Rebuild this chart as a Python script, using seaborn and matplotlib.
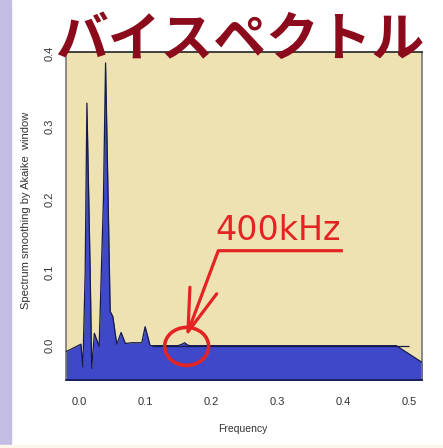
"""Bispectrum-style spectrum plot (R-like look) with annotation for the 400 kHz bump."""
import matplotlib
matplotlib.use("Agg")
import matplotlib.pyplot as plt
from matplotlib.patches import Ellipse, Rectangle
import seaborn as sns

# spectrum (frequency, smoothed spectrum value)
freq = [-0.026, 0.0026, 0.0056, 0.0091, 0.0117, 0.0167, 0.019, 0.023, 0.0303,
        0.0368, 0.040, 0.0439, 0.047, 0.051, 0.057, 0.0636, 0.070, 0.080,
        0.095, 0.100, 0.1076, 0.150, 0.156, 0.160, 0.164, 0.168, 0.481, 0.527]
spec = [-0.011, 0.002, -0.029, 0.100, 0.332, 0.100, -0.031, 0.017, -0.001,
        0.200, 0.387, 0.200, 0.047, 0.040, 0.002, 0.018, 0.003, 0.004,
        0.004, 0.026, 0.000, 0.000, 0.002, 0.004, 0.001, 0.000, 0.000, -0.027]
zero_line = [0.11, 0.50]

x_ticks = [0.0, 0.1, 0.2, 0.3, 0.4, 0.5]
y_ticks = [0.0, 0.1, 0.2, 0.3, 0.4]

title = "バイスペクトル"
note = "400kHz"
note_pos = (0.3015, 0.1445)
underline = ([0.400, 0.211, 0.165], [0.130, 0.130, 0.019])
barbs = ([0.168, 0.165, 0.2086], [0.080, 0.019, 0.071])
circle = (0.163, -0.001, 0.0667, 0.052)

CREAM = "#EEE2B2"
BLUE = "#3E48C8"
NAVY = "#141a4a"
RED = "#E42424"
DARKRED = "#8B0A1C"

sns.set_theme(style="white")
plt.rcParams["font.family"] = ["Liberation Sans", "DejaVu Sans"]

fig = plt.figure(figsize=(4.43, 4.48), dpi=100)
fig.patches.append(Rectangle((0, 0), 11 / 443, 1, transform=fig.transFigure,
                             color="#C3BDE3", zorder=0))
fig.patches.append(Rectangle((0, 0), 1, 3 / 448, transform=fig.transFigure,
                             color="#FBF6EA", zorder=0))
ax = fig.add_axes([66 / 443, 1 - 380 / 448, 356 / 443, 328 / 448])
ax.set_facecolor(CREAM)

ax.fill_between(freq, spec, -0.2, color=BLUE, lw=0, zorder=2)
sns.lineplot(x=freq, y=spec, sort=False, estimator=None, color=NAVY, lw=0.9,
             ax=ax, zorder=3)
ax.hlines(0, zero_line[0], zero_line[1], color=NAVY, lw=0.9, zorder=3)

ax.set_xlim(-0.02, 0.52)
ax.set_ylim(-0.047, 0.402)
ax.set_xticks(x_ticks, [f"{t:.1f}" for t in x_ticks])
ax.set_yticks(y_ticks, [f"{t:.1f}" for t in y_ticks], rotation=90, va="center")
ax.tick_params(axis="both", direction="out", length=4.5, width=0.8,
               color="#555555", labelsize=8, labelcolor="#333333")
ax.tick_params(axis="x", pad=8)
ax.tick_params(axis="y", pad=4)
ax.set_xlabel("Frequency", fontsize=7.5, color="#333333")
ax.set_ylabel("Spectrum smoothing by Akaike  window", fontsize=8,
              color="#333333")
ax.xaxis.set_label_coords(0.497, -0.134)
ax.yaxis.set_label_coords(-0.097, 0.518)
for side, sp in ax.spines.items():
    sp.set_color("#222222" if side == "top" else "#777777")
    sp.set_linewidth(1.2)
ax.spines["bottom"].set_color(NAVY)

# annotation
ax.add_patch(Ellipse(circle[:2], circle[2], circle[3], fill=False,
                     edgecolor=RED, lw=2.6, zorder=5))
ax.plot(*underline, color=RED, lw=2.3, solid_capstyle="butt", zorder=5)
ax.plot(*barbs, color=RED, lw=2.3, zorder=5)
ax.text(*note_pos, note, color=RED, fontsize=24, family="DejaVu Sans",
        ha="center", va="baseline", zorder=5)

fig.text(240 / 443, 1 - 40 / 448, title, color=DARKRED, fontsize=38,
         fontweight="bold", family=["Noto Sans CJK JP", "DejaVu Sans"],
         ha="center", va="center", zorder=10)

fig.savefig("out.png", dpi=100)
